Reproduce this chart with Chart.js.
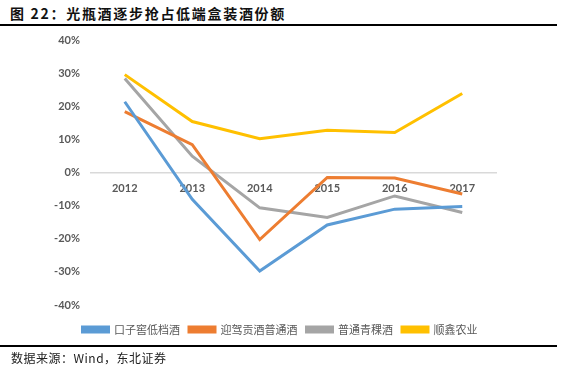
<!DOCTYPE html>
<html>
<head>
<meta charset="utf-8">
<script src="https://cdn.jsdelivr.net/npm/chart.js@4/dist/chart.umd.min.js"></script>
<style>
  body { margin: 0; width: 572px; height: 376px; background: #fff; position: relative; overflow: hidden; }
  #title { position: absolute; left: 10px; top: 3px; font: bold 14px "Noto Sans CJK SC", serif; color: #111; letter-spacing: 1.7px; }
  .rule { position: absolute; left: 0; width: 557px; height: 2px; background: #000; }
  #source { position: absolute; left: 11px; top: 349px; font: 12px "Noto Sans CJK SC", serif; color: #222; letter-spacing: 0.5px; }
  #wrap { position: absolute; left: 0; top: 23px; width: 572px; height: 324px; }
</style>
</head>
<body>
<div id="title">图 22：光瓶酒逐步抢占低端盒装酒份额</div>
<div class="rule" style="top:24px"></div>
<div id="wrap"><canvas id="myChart"></canvas></div>
<div class="rule" style="top:345px"></div>
<div id="source">数据来源：Wind，东北证券</div>
<script>
const years = ["2012", "2013", "2014", "2015", "2016", "2017"];
const kouzijiao = [21.5, -8, -29.7, -15.8, -11, -10.2];
const yingjia = [18.5, 8.5, -20.2, -1.4, -1.6, -6.4];
const qingke = [28.5, 5, -10.6, -13.5, -7, -12];
const shunxin = [29.7, 15.5, 10.3, 12.9, 12.2, 24];
const seriesNames = ["口子窖低档酒", "迎驾贡酒普通酒", "普通青稞酒", "顺鑫农业"];
const colors = ["#5b9bd5", "#ed7d31", "#a5a5a5", "#ffc000"];

const makeSet = (i, data) => ({
    label: seriesNames[i],
    data,
    borderColor: colors[i],
    backgroundColor: colors[i],
    borderWidth: 3,
    pointRadius: 0,
    tension: 0
});

const tickFont = { family: "Lato", size: 11, weight: "bold" };

new Chart(document.getElementById("myChart"), {
    type: "line",
    data: {
        labels: years,
        datasets: [makeSet(0, kouzijiao), makeSet(1, yingjia), makeSet(2, qingke), makeSet(3, shunxin)]
    },
    options: {
        responsive: true,
        maintainAspectRatio: false,
        animation: false,
        layout: { padding: { top: 4, right: 12, left: 0, bottom: 2 } },
        plugins: {
            tooltip: { enabled: false },
            legend: {
                position: "bottom",
                labels: {
                    boxWidth: 26,
                    boxHeight: 5,
                    padding: 9,
                    color: "#595959",
                    font: { family: "Noto Sans CJK SC", size: 11 }
                }
            }
        },
        scales: {
            x: {
                position: { y: 0 },
                offset: true,
                grid: { display: false, drawTicks: false },
                border: { display: true, color: "#d9d9d9", width: 1.5 },
                ticks: { color: "#595959", font: tickFont, padding: 9, maxRotation: 0 }
            },
            // empty bottom axis, only keeps a gap between plot and legend
            xGap: {
                type: "category",
                position: "bottom",
                grid: { display: false, drawTicks: false },
                border: { display: false },
                ticks: { display: false },
                afterFit: (scale) => { scale.height = 10; }
            },
            y: {
                min: -40,
                max: 40,
                grid: { display: false, drawTicks: false },
                border: { display: false },
                afterFit: (scale) => { scale.width = 91; },
                ticks: {
                    stepSize: 10,
                    color: "#595959",
                    font: tickFont,
                    padding: 11,
                    callback: (v) => v + "%"
                }
            },
            // empty right axis, only to reserve the blank space right of the plot
            yRight: {
                position: "right",
                display: true,
                min: -40,
                max: 40,
                grid: { display: false, drawTicks: false },
                border: { display: false },
                ticks: { display: false },
                afterFit: (scale) => { scale.width = 64; }
            }
        }
    }
});
</script>
</body>
</html>
